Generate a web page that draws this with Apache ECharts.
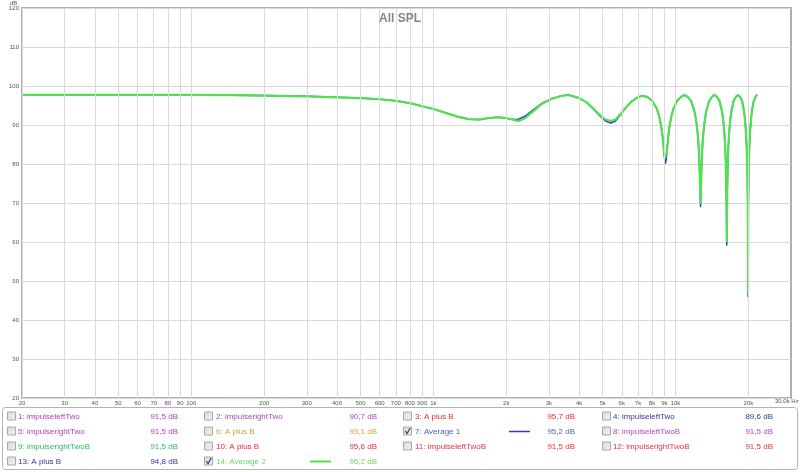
<!DOCTYPE html>
<html>
<head>
<meta charset="utf-8">
<script src="https://cdn.jsdelivr.net/npm/echarts@6/dist/echarts.min.js"></script>
<style>html,body{margin:0;padding:0;background:#fff}#c{width:800px;height:472px}</style>
</head>
<body>
<div id="c"></div>
<script>
// ---- data ----
const freqHz = [
  20, 50, 100, 150, 200, 300, 400, 500, 600, 700, 800, 900, 1000, 1100, 1250, 1400, 1550, 1700, 1850, 2000, 2150, 2250, 2400, 2600, 2800, 3100, 3400, 3620,
  4000, 4300, 4600, 4900, 5150, 5400, 5650, 5900, 6200, 6550, 6900, 7270,
  7640, 8000, 8370, 8550, 8730, 8840, 8910, 8980, 9035, 9090, 9145, 9200, 9270, 9340, 9450, 9630, 9810, 10180, 10540, 10880,
  11240, 11600, 11970, 12150, 12330, 12440, 12510, 12580, 12635, 12690, 12745, 12800, 12870, 12940, 13050, 13230, 13410, 13780, 14140, 14500,
  14840, 15200, 15570, 15750, 15930, 16040, 16110, 16180, 16235, 16265, 16290, 16315, 16345, 16400, 16470, 16540, 16650, 16830, 17010, 17380, 17740, 18110,
  18490, 18850, 19220, 19400, 19580, 19690, 19760, 19830, 19885, 19915, 19930, 19940, 19950, 19965, 19995, 20050, 20120, 20190, 20300, 20480, 20660, 21030, 21390, 21750
];
const average2Db = [
  97.75, 97.75, 97.7, 97.65, 97.55, 97.35, 97.1, 96.9, 96.6, 96.2, 95.6, 94.8, 94.1, 93.3, 92.2, 91.5, 91.4, 91.8, 92.0, 91.8, 91.3, 91.0, 91.8, 93.7, 95.4, 96.8, 97.5, 97.7,
  96.9, 95.8, 94.1, 92.4, 91.4, 91.0, 91.4, 92.6, 94.3, 95.9, 96.9, 97.5,
  97.2, 96.3, 94.2, 92.4, 89.7, 87.2, 85.0, 82.8, 81.5, 81.0, 81.5, 82.8, 85.0, 87.2, 89.7, 92.4, 94.2, 96.3, 97.2, 97.7,
  97.2, 96.2, 93.6, 91.5, 88.3, 85.3, 82.5, 78.5, 74.0, 70.0, 74.0, 78.5, 82.5, 85.3, 88.3, 91.5, 93.6, 96.2, 97.2, 97.7,
  97.2, 96.2, 93.4, 91.2, 87.8, 84.6, 81.5, 77.0, 71.5, 66.0, 60.2, 66.0, 71.5, 77.0, 81.5, 84.6, 87.8, 91.2, 93.4, 96.2, 97.2, 97.7,
  97.2, 96.1, 93.3, 91.0, 87.5, 84.2, 81.0, 76.3, 70.5, 64.0, 57.0, 47.0, 57.0, 64.0, 70.5, 76.3, 81.0, 84.2, 87.5, 91.0, 93.3, 96.1, 97.2, 97.8
];
const average1Db = [
  97.75, 97.75, 97.7, 97.65, 97.55, 97.35, 97.1, 96.9, 96.6, 96.2, 95.6, 94.8, 94.1, 93.3, 92.2, 91.5, 91.4, 91.8, 92.0, 91.7, 91.4, 91.5, 92.3, 94.0, 95.5, 96.8, 97.5, 97.7,
  96.9, 95.8, 94.0, 92.2, 91.0, 90.5, 91.0, 92.4, 94.2, 95.9, 96.9, 97.5,
  97.2, 96.3, 94.2, 92.4, 89.7, 87.2, 85.0, 82.8, 81.0, 80.2, 81.0, 82.8, 85.0, 87.2, 89.7, 92.4, 94.2, 96.3, 97.2, 97.7,
  97.2, 96.2, 93.6, 91.5, 88.3, 85.3, 82.5, 78.5, 73.6, 69.1, 73.6, 78.5, 82.5, 85.3, 88.3, 91.5, 93.6, 96.2, 97.2, 97.7,
  97.2, 96.2, 93.4, 91.2, 87.8, 84.6, 81.5, 77.0, 71.5, 65.5, 59.2, 65.5, 71.5, 77.0, 81.5, 84.6, 87.8, 91.2, 93.4, 96.2, 97.2, 97.7,
  97.2, 96.1, 93.3, 91.0, 87.5, 84.2, 81.0, 76.3, 70.5, 64.0, 56.5, 46.0, 56.5, 64.0, 70.5, 76.3, 81.0, 84.2, 87.5, 91.0, 93.3, 96.1, 97.2, 97.8
];
const xTickHz = [20, 30, 40, 50, 60, 70, 80, 90, 100, 200, 300, 400, 500, 600, 700, 800, 900, 1000, 2000, 3000, 4000, 5000, 6000, 7000, 8000, 9000, 10000, 20000];
const xTickLabels = ['20', '30', '40', '50', '60', '70', '80', '90', '100', '200', '300', '400', '500', '600', '700', '800', '900', '1k', '2k', '3k', '4k', '5k', '6k', '7k', '8k', '9k', '10k', '20k'];
const xLastLabel = '30,0k Hz';
const yUnit = 'dB';
const chartTitle = 'All SPL';
const legendNames = ['1: impulseleftTwo', '2: impulserightTwo', '3: A plus B', '4: impulseleftTwo',
  '5: impulserightTwo', '6: A plus B', '7: Average 1', '8: impulseleftTwoB',
  '9: impulserightTwoB', '10: A plus B', '11: impulseleftTwoB', '12: impulserightTwoB',
  '13: A plus B', '14: Average 2'];
const legendValues = ['91,5 dB', '90,7 dB', '95,7 dB', '89,6 dB',
  '91,5 dB', '93,1 dB', '95,2 dB', '91,5 dB',
  '91,5 dB', '95,6 dB', '91,5 dB', '91,5 dB',
  '94,8 dB', '95,2 dB'];
const legendColors = ['#b040b8', '#a848b8', '#e0303c', '#343494',
  '#b040c0', '#c8a838', '#4858d8', '#c040c8',
  '#30b868', '#e82840', '#e83040', '#e83040',
  '#343494', '#66dc66'];
const legendChecked = [false, false, false, false, false, false, true, false, false, false, false, false, false, true];

// ---- styles ----
const BLUE = '#2a3ac8';
const GREEN = '#52e052';
const FONT = "'Liberation Sans', Arial, sans-serif";
const SMALL = "'Liberation Sans Narrow', 'Liberation Sans', Arial, sans-serif";

const chart = echarts.init(document.getElementById('c'), null, {renderer: 'canvas'});

const graphics = [];
graphics.push({type: 'text', left: 10, top: 0, style: {text: yUnit, fontSize: 6, fill: '#555', fontFamily: SMALL}});
graphics.push({type: 'text', left: 775, top: 398.5, style: {text: xLastLabel, fontSize: 6, fill: '#555', fontFamily: SMALL}});
graphics.push({type: 'rect', shape: {x: 2.5, y: 407.5, width: 795, height: 62, r: 3}, style: {fill: '#fff', stroke: '#b4b4b4', lineWidth: 1}});

const colCheck = [7, 204, 403, 602];
const colName = [18, 216, 415, 613];
const colValR = [178, 377, 575, 773];
const rowY = [416.5, 431.5, 446.5, 461.5];
legendNames.forEach((nm, i) => {
  const r = Math.floor(i / 4), c = i % 4;
  const y = rowY[r];
  graphics.push({type: 'rect', shape: {x: colCheck[c] + 0.5, y: y - 4.5, width: 8, height: 8},
    style: {fill: new echarts.graphic.LinearGradient(0, 0, 1, 1, [{offset: 0, color: '#d8d8d8'}, {offset: 1, color: '#f4f4f4'}]), stroke: '#a8a8a8', lineWidth: 1}});
  if (legendChecked[i]) {
    const x = colCheck[c];
    graphics.push({type: 'polyline', shape: {points: [[x + 2.3, y - 0.5], [x + 4, y + 2], [x + 7.3, y - 3.5]]},
      style: {stroke: '#3a4a7a', lineWidth: 1.3, fill: null}});
    graphics.push({type: 'line', shape: {x1: colCheck[c] + 106, y1: y, x2: colCheck[c] + 127, y2: y},
      style: {stroke: i === 6 ? BLUE : GREEN, lineWidth: i === 6 ? 1.5 : 2}});
  }
  graphics.push({type: 'text', x: colName[c], y: y, style: {text: nm, fontSize: 8, fill: legendColors[i], fontFamily: FONT, textVerticalAlign: 'middle', verticalAlign: 'middle'}});
  graphics.push({type: 'text', x: colValR[c], y: y, style: {text: legendValues[i], fontSize: 8, fill: legendColors[i], fontFamily: FONT, align: 'right', textAlign: 'right', verticalAlign: 'middle', textVerticalAlign: 'middle'}});
});

const option = {
  animation: false,
  backgroundColor: '#fff',
  title: {text: chartTitle, left: 'center', top: 8, textStyle: {fontSize: 12, fontWeight: 'bold', color: '#858585', fontFamily: FONT}},
  grid: {left: 22, right: 9, top: 8, bottom: 74, show: true, borderColor: '#b0b0b0', borderWidth: 2, backgroundColor: 'transparent'},
  xAxis: {type: 'log', logBase: 10, min: 20, max: 30000,
    axisLine: {show: false}, axisTick: {show: false}, axisLabel: {show: false}, splitLine: {show: false}},
  yAxis: {type: 'value', min: 20, max: 120, interval: 10,
    axisLine: {show: false}, axisTick: {show: false},
    axisLabel: {fontSize: 6, color: '#555', margin: 3, fontFamily: SMALL},
    splitLine: {lineStyle: {color: '#dadada', width: 1}}},
  series: [
    {type: 'line', name: 'grid', data: [], z: 1, silent: true,
      markLine: {silent: true, symbol: ['none', 'none'], animation: false,
        lineStyle: {color: '#dadada', width: 1, type: 'solid'},
        label: {show: true, position: 'start', distance: 2, fontSize: 6, color: '#555', fontFamily: SMALL, formatter: '{b}'},
        emphasis: {disabled: true},
        data: xTickHz.map((f, i) => ({xAxis: f, name: xTickLabels[i]}))}},
    {type: 'line', name: 'Average 1', data: freqHz.map((f, i) => [f, average1Db[i]]),
      showSymbol: false, symbol: 'none', z: 3, silent: true,
      lineStyle: {color: BLUE, width: 1.5, join: 'round'}},
    {type: 'line', name: 'Average 2', data: freqHz.map((f, i) => [f, average2Db[i]]),
      showSymbol: false, symbol: 'none', z: 4, silent: true,
      lineStyle: {color: GREEN, width: 2.2, join: 'round'}}
  ],
  graphic: graphics
};
chart.setOption(option);
</script>
</body>
</html>
